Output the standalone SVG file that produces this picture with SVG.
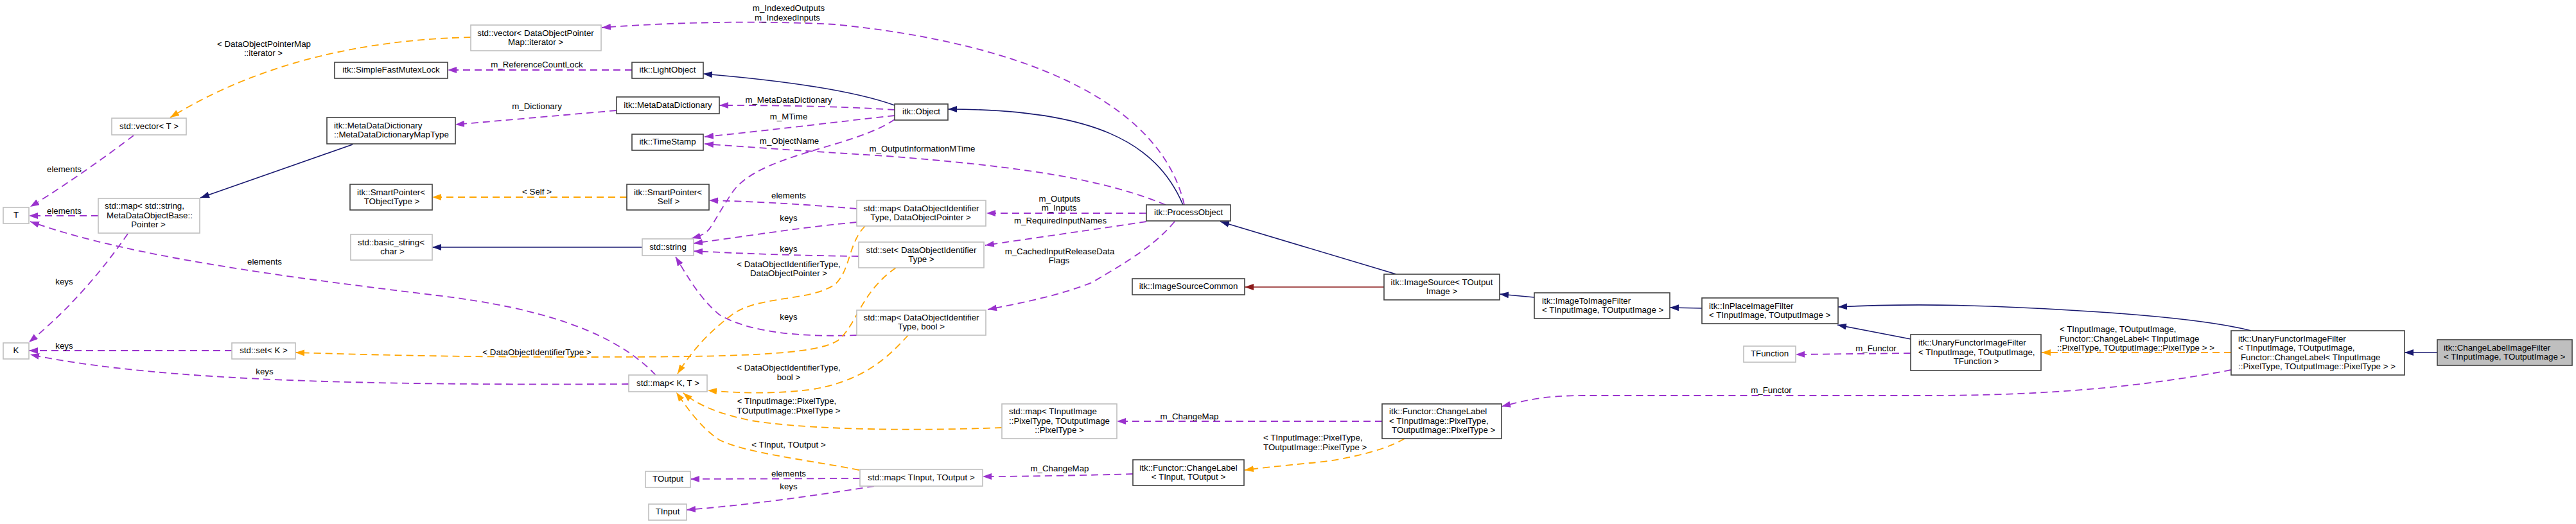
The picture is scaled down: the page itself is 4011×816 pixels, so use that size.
<svg xmlns="http://www.w3.org/2000/svg" width="4011" height="816" viewBox="0 0 4011 816">
<style>
text{font-family:"Liberation Sans",Arial,sans-serif;font-size:13.3px;fill:#000}
.m{text-anchor:middle}
.s{text-anchor:start}
.nb{fill:#fff;stroke:#404040;stroke-width:1.6}
.ng{fill:#fff;stroke:#bfbfbf;stroke-width:1.6}
.hl{fill:#bfbfbf;stroke:#404040;stroke-width:1.6}
.e path{fill:none}
.u{stroke:#9a32cd;stroke-width:1.8;stroke-dasharray:11,7;marker-end:url(#au)}
.t{stroke:#ffa500;stroke-width:1.8;stroke-dasharray:11,7;marker-end:url(#at)}
.i{stroke:#191970;stroke-width:1.6;marker-end:url(#ai)}
.p{stroke:#8b1a1a;stroke-width:1.6;marker-end:url(#ap)}
</style>
<defs>
<marker id="au" markerUnits="userSpaceOnUse" markerWidth="14" markerHeight="10" refX="14" refY="5" orient="auto"><path d="M0,0 L14,5 L0,10 z" fill="#9a32cd"/></marker>
<marker id="at" markerUnits="userSpaceOnUse" markerWidth="14" markerHeight="10" refX="14" refY="5" orient="auto"><path d="M0,0 L14,5 L0,10 z" fill="#ffa500"/></marker>
<marker id="ai" markerUnits="userSpaceOnUse" markerWidth="14" markerHeight="10" refX="14" refY="5" orient="auto"><path d="M0,0 L14,5 L0,10 z" fill="#191970"/></marker>
<marker id="ap" markerUnits="userSpaceOnUse" markerWidth="14" markerHeight="10" refX="14" refY="5" orient="auto"><path d="M0,0 L14,5 L0,10 z" fill="#8b1a1a"/></marker>
</defs>
<rect width="4011" height="816" fill="#fff"/>

<g id="connectors" class="e">
<path class="t" d="M733,58 C560,62 400,100 265,183"/>
<path class="u" d="M208,211 C170,240 100,290 47,322"/>
<path class="u" d="M153,336 L45,336"/>
<path class="u" d="M1021,584 C960,520 850,480 680,460 C450,432 200,400 47,345"/>
<path class="u" d="M199,364 C160,420 110,480 45,533"/>
<path class="u" d="M361,546 L45,546"/>
<path class="u" d="M979,598 C600,600 250,595 47,552"/>
<path class="i" d="M1000,385 L673,385"/>
<path class="i" d="M549,225 L312,308"/>
<path class="t" d="M976,307 L673,307"/>
<path class="u" d="M984,109 L697,109"/>
<path class="u" d="M960,172 L709,194"/>
<path class="i" d="M1393,164 C1340,145 1250,128 1095,115"/>
<path class="u" d="M1393,171 C1300,165 1200,164 1120,164"/>
<path class="u" d="M1393,180 C1300,190 1200,203 1097,213"/>
<path class="u" d="M1815,319 C1720,280 1600,260 1380,243 C1250,235 1150,228 1097,224"/>
<path class="u" d="M1393,186 C1330,230 1180,240 1140,300 S1110,362 1077,371"/>
<path class="i" d="M1842,319 C1800,220 1700,170 1476,170"/>
<path class="u" d="M1844,319 C1810,170 1620,70 1300,38 C1150,30 1000,38 937,43"/>
<path class="u" d="M1334,325 C1250,318 1180,314 1104,312"/>
<path class="u" d="M1334,346 C1240,355 1160,368 1080,379"/>
<path class="u" d="M1337,399 C1240,398 1160,395 1080,391"/>
<path class="u" d="M1334,522 C1260,525 1170,520 1120,490 C1090,465 1070,430 1052,400"/>
<path class="t" d="M1347,352 C1320,380 1325,420 1300,443 C1260,470 1180,460 1140,490 C1100,520 1075,550 1055,582"/>
<path class="t" d="M1395,417 C1340,455 1335,505 1305,530 C1270,553 1150,556 900,556 C700,556 560,552 460,549"/>
<path class="t" d="M1414,522 C1380,560 1340,595 1260,607 C1200,614 1150,612 1102,608"/>
<path class="t" d="M1560,666 C1400,672 1250,668 1170,655 C1120,645 1085,630 1064,612"/>
<path class="t" d="M1338,732 C1250,715 1160,705 1120,685 C1090,665 1070,635 1053,611"/>
<path class="u" d="M1339,745 L1075,746"/>
<path class="u" d="M1361,757 C1280,770 1180,785 1069,794"/>
<path class="u" d="M1764,738 C1700,740 1600,742 1530,742"/>
<path class="u" d="M2152,656 L1739,656"/>
<path class="t" d="M2187,683 C2150,705 2080,718 2040,721 C2000,725 1970,728 1938,732"/>
<path class="u" d="M1785,332 L1536,332"/>
<path class="u" d="M1785,345 C1700,358 1600,372 1534,382"/>
<path class="u" d="M1829,345 C1800,380 1760,405 1700,440 C1650,460 1590,472 1538,482"/>
<path class="i" d="M2174,427 L1900,345"/>
<path class="p" d="M2155,447 L1938,447"/>
<path class="i" d="M2389,463 L2335,458"/>
<path class="i" d="M2650,480 L2600,479"/>
<path class="i" d="M2975,528 L2861,506"/>
<path class="i" d="M3505,515 C3440,498 3300,485 3100,477 C2990,473 2920,475 2862,478"/>
<path class="t" d="M3474,549 L3179,549"/>
<path class="u" d="M2975,550 L2796,552"/>
<path class="u" d="M3474,576 C3350,600 3200,616 3000,616 L2464,616 C2400,616 2370,625 2338,633"/>
<path class="i" d="M3795,549 L3744,549"/>
</g>

<g id="edge-labels">
<text class="m" x="411" y="72.5">&lt; DataObjectPointerMap</text>
<text class="m" x="410" y="86.5">::iterator &gt;</text>
<text class="m" x="100" y="267.5">elements</text>
<text class="m" x="100" y="332.5">elements</text>
<text class="m" x="412" y="411.5">elements</text>
<text class="m" x="100" y="442.5">keys</text>
<text class="m" x="100" y="542.5">keys</text>
<text class="m" x="412" y="582.5">keys</text>
<text class="m" x="836" y="104.5">m_ReferenceCountLock</text>
<text class="m" x="836" y="169.5">m_Dictionary</text>
<text class="m" x="836" y="302.5">&lt; Self &gt;</text>
<text class="m" x="1228" y="16.5">m_IndexedOutputs</text>
<text class="m" x="1226" y="31.5">m_IndexedInputs</text>
<text class="m" x="1228" y="159.5">m_MetaDataDictionary</text>
<text class="m" x="1228" y="185.5">m_MTime</text>
<text class="m" x="1229" y="223.5">m_ObjectName</text>
<text class="m" x="1436" y="235.5">m_OutputInformationMTime</text>
<text class="m" x="1228" y="308.5">elements</text>
<text class="m" x="1228" y="343.5">keys</text>
<text class="m" x="1228" y="391.5">keys</text>
<text class="m" x="1228" y="415.5">&lt; DataObjectIdentifierType,</text>
<text class="m" x="1228" y="429.5">DataObjectPointer &gt;</text>
<text class="m" x="1228" y="497.5">keys</text>
<text class="m" x="836" y="552.5">&lt; DataObjectIdentifierType &gt;</text>
<text class="m" x="1228" y="576.5">&lt; DataObjectIdentifierType,</text>
<text class="m" x="1228" y="591.5">bool &gt;</text>
<text class="m" x="1225" y="628.5">&lt; TInputImage::PixelType,</text>
<text class="m" x="1228" y="643.5">TOutputImage::PixelType &gt;</text>
<text class="m" x="1228" y="696.5">&lt; TInput, TOutput &gt;</text>
<text class="m" x="1228" y="741.5">elements</text>
<text class="m" x="1228" y="761.5">keys</text>
<text class="m" x="1650" y="313.5">m_Outputs</text>
<text class="m" x="1649" y="327.5">m_Inputs</text>
<text class="m" x="1651" y="347.5">m_RequiredInputNames</text>
<text class="m" x="1650" y="395.5">m_CachedInputReleaseData</text>
<text class="m" x="1649" y="409.5">Flags</text>
<text class="m" x="1650" y="733.5">m_ChangeMap</text>
<text class="m" x="1852" y="652.5">m_ChangeMap</text>
<text class="s" x="1967" y="685.5">&lt; TInputImage::PixelType,</text>
<text class="s" x="1967" y="700.5">TOutputImage::PixelType &gt;</text>
<text class="m" x="2921" y="546.5">m_Functor</text>
<text class="m" x="2758" y="611.5">m_Functor</text>
<text class="s" x="3207" y="516.5">&lt; TInputImage, TOutputImage,</text>
<text class="s" x="3207" y="531.5">Functor::ChangeLabel&lt; TInputImage</text>
<text class="s" x="3203" y="545.5">::PixelType, TOutputImage::PixelType &gt; &gt;</text>
</g>

<g id="n_vecT"><rect class="ng" x="174" y="184" width="116" height="26"/><text class="m" x="232" y="200.5">std::vector&lt; T &gt;</text></g>
<g id="n_T"><rect class="ng" x="5" y="323" width="40" height="25"/><text class="m" x="25" y="339">T</text></g>
<g id="n_K"><rect class="ng" x="5" y="534" width="40" height="25"/><text class="m" x="25" y="550">K</text></g>
<g id="n_setK"><rect class="ng" x="361" y="534" width="99" height="25"/><text class="m" x="410.5" y="550">std::set&lt; K &gt;</text></g>
<g id="n_mapStr"><rect class="ng" x="153" y="309" width="158" height="54"/><text class="m" x="225" y="325">std::map&lt; std::string,</text><text class="m" x="233" y="339.5">MetaDataObjectBase::</text><text class="m" x="231" y="354">Pointer &gt;</text></g>
<g id="n_mutex"><rect class="nb" x="521" y="97" width="176" height="25"/><text class="m" x="609" y="113">itk::SimpleFastMutexLock</text></g>
<g id="n_mddmt"><rect class="nb" x="509" y="183" width="200" height="41"/><text class="s" x="520" y="199.5">itk::MetaDataDictionary</text><text class="s" x="520" y="214">::MetaDataDictionaryMapType</text></g>
<g id="n_spT"><rect class="nb" x="545" y="287" width="128" height="40"/><text class="m" x="609" y="303.5">itk::SmartPointer&lt;</text><text class="m" x="610" y="317.5">TObjectType &gt;</text></g>
<g id="n_bstr"><rect class="ng" x="546" y="365" width="127" height="40"/><text class="m" x="609" y="381.5">std::basic_string&lt;</text><text class="m" x="611" y="395.5">char &gt;</text></g>
<g id="n_vecDOPM"><rect class="ng" x="733" y="39" width="203" height="40"/><text class="m" x="834" y="55.5">std::vector&lt; DataObjectPointer</text><text class="m" x="834" y="69.5">Map::iterator &gt;</text></g>
<g id="n_light"><rect class="nb" x="984" y="97" width="111" height="25"/><text class="m" x="1039.5" y="113">itk::LightObject</text></g>
<g id="n_mdd"><rect class="nb" x="960" y="151" width="160" height="26"/><text class="m" x="1040" y="167.5">itk::MetaDataDictionary</text></g>
<g id="n_ts"><rect class="nb" x="984" y="209" width="111" height="25"/><text class="m" x="1039.5" y="225">itk::TimeStamp</text></g>
<g id="n_spS"><rect class="nb" x="976" y="287" width="128" height="40"/><text class="m" x="1040" y="303.5">itk::SmartPointer&lt;</text><text class="m" x="1041" y="317.5">Self &gt;</text></g>
<g id="n_str"><rect class="ng" x="1000" y="372" width="80" height="26"/><text class="m" x="1040" y="388.5">std::string</text></g>
<g id="n_mapKT"><rect class="ng" x="979" y="584" width="122" height="26"/><text class="m" x="1040" y="600.5">std::map&lt; K, T &gt;</text></g>
<g id="n_TOut"><rect class="ng" x="1005" y="734" width="70" height="25"/><text class="m" x="1040" y="750">TOutput</text></g>
<g id="n_TIn"><rect class="ng" x="1010" y="785" width="59" height="25"/><text class="m" x="1039.5" y="801">TInput</text></g>
<g id="n_obj"><rect class="nb" x="1393" y="162" width="83" height="25"/><text class="m" x="1434.5" y="178">itk::Object</text></g>
<g id="n_po"><rect class="nb" x="1785" y="319" width="131" height="25"/><text class="m" x="1850.5" y="335">itk::ProcessObject</text></g>
<g id="n_mapDOP"><rect class="ng" x="1334" y="312" width="201" height="40"/><text class="m" x="1434.5" y="328.5">std::map&lt; DataObjectIdentifier</text><text class="m" x="1433.5" y="342.5">Type, DataObjectPointer &gt;</text></g>
<g id="n_setDOI"><rect class="ng" x="1337" y="377" width="195" height="40"/><text class="m" x="1434.5" y="393.5">std::set&lt; DataObjectIdentifier</text><text class="m" x="1434.5" y="407.5">Type &gt;</text></g>
<g id="n_mapBool"><rect class="ng" x="1334" y="483" width="201" height="39"/><text class="m" x="1434.5" y="499">std::map&lt; DataObjectIdentifier</text><text class="m" x="1434.5" y="513">Type, bool &gt;</text></g>
<g id="n_mapPix"><rect class="ng" x="1560" y="629" width="179" height="54"/><text class="s" x="1571" y="645">std::map&lt; TInputImage</text><text class="s" x="1571" y="659.5">::PixelType, TOutputImage</text><text class="m" x="1649.5" y="674">::PixelType &gt;</text></g>
<g id="n_mapTIO"><rect class="ng" x="1339" y="731" width="191" height="26"/><text class="m" x="1434.5" y="747.5">std::map&lt; TInput, TOutput &gt;</text></g>
<g id="n_isc"><rect class="nb" x="1763" y="434" width="175" height="25"/><text class="m" x="1850.5" y="450">itk::ImageSourceCommon</text></g>
<g id="n_clIO"><rect class="nb" x="1764" y="716" width="173" height="40"/><text class="m" x="1850.5" y="732.5">itk::Functor::ChangeLabel</text><text class="m" x="1850.5" y="746.5">&lt; TInput, TOutput &gt;</text></g>
<g id="n_is"><rect class="nb" x="2155" y="427" width="180" height="40"/><text class="m" x="2245" y="443.5">itk::ImageSource&lt; TOutput</text><text class="m" x="2245" y="457.5">Image &gt;</text></g>
<g id="n_i2i"><rect class="nb" x="2389" y="456" width="211" height="40"/><text class="s" x="2401" y="472.5">itk::ImageToImageFilter</text><text class="s" x="2401" y="486.5">&lt; TInputImage, TOutputImage &gt;</text></g>
<g id="n_inplace"><rect class="nb" x="2650" y="464" width="212" height="40"/><text class="s" x="2661" y="480.5">itk::InPlaceImageFilter</text><text class="s" x="2661" y="494.5">&lt; TInputImage, TOutputImage &gt;</text></g>
<g id="n_clPix"><rect class="nb" x="2152" y="629" width="186" height="54"/><text class="s" x="2163" y="645">itk::Functor::ChangeLabel</text><text class="s" x="2163" y="659.5">&lt; TInputImage::PixelType,</text><text class="s" x="2167" y="674">TOutputImage::PixelType &gt;</text></g>
<g id="n_tf"><rect class="ng" x="2715" y="539" width="81" height="25"/><text class="m" x="2755.5" y="555">TFunction</text></g>
<g id="n_ufTF"><rect class="nb" x="2975" y="521" width="203" height="56"/><text class="s" x="2987" y="538">itk::UnaryFunctorImageFilter</text><text class="s" x="2987" y="552.5">&lt; TInputImage, TOutputImage,</text><text class="m" x="3077" y="567">TFunction &gt;</text></g>
<g id="n_ufBig"><rect class="nb" x="3474" y="515" width="270" height="69"/><text class="s" x="3485" y="531.5">itk::UnaryFunctorImageFilter</text><text class="s" x="3485" y="546">&lt; TInputImage, TOutputImage,</text><text class="s" x="3489" y="560.5">Functor::ChangeLabel&lt; TInputImage</text><text class="s" x="3485" y="575">::PixelType, TOutputImage::PixelType &gt; &gt;</text></g>
<g id="n_clif"><rect class="hl" x="3795" y="529" width="210" height="40"/><text class="s" x="3805" y="545.5">itk::ChangeLabelImageFilter</text><text class="s" x="3805" y="559.5">&lt; TInputImage, TOutputImage &gt;</text></g>
</svg>
